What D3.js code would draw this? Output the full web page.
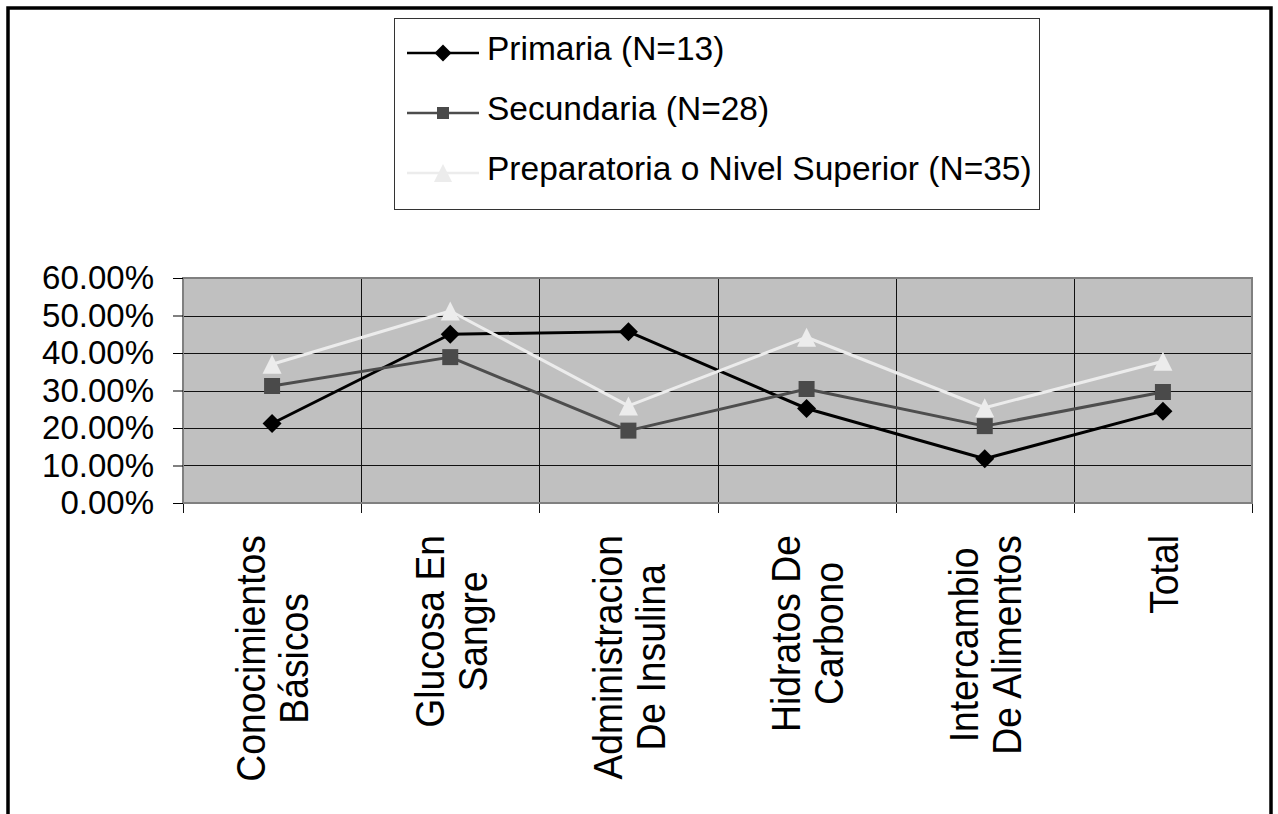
<!DOCTYPE html>
<html>
<head>
<meta charset="utf-8">
<script src="https://cdn.jsdelivr.net/npm/d3@7"></script>
<style>
  html, body { margin: 0; padding: 0; background: #fff; }
  svg { display: block; }
  text { font-family: "Liberation Sans", Arial, sans-serif; fill: #000; }
</style>
</head>
<body>
<svg id="chart" width="1278" height="814"></svg>
<script>
// ---- Data ----
const categories = ["Conocimientos Básicos", "Glucosa En Sangre", "Administracion De Insulina", "Hidratos De Carbono", "Intercambio De Alimentos", "Total"];
const categoryLines = [["Conocimientos", "Básicos"], ["Glucosa En", "Sangre"], ["Administracion", "De Insulina"], ["Hidratos De", "Carbono"], ["Intercambio", "De Alimentos"], ["Total"]];
const seriesNames = ["Primaria (N=13)", "Secundaria (N=28)", "Preparatoria o Nivel Superior (N=35)"];
const primaria = [0.212, 0.450, 0.457, 0.252, 0.118, 0.245];
const secundaria = [0.312, 0.389, 0.193, 0.304, 0.205, 0.296];
const preparatoria = [0.370, 0.512, 0.259, 0.442, 0.254, 0.378];
const yTicks = [0, 0.1, 0.2, 0.3, 0.4, 0.5, 0.6];

// ---- Layout ----
const svg = d3.select("#chart");
const plot = { left: 183, right: 1252, top: 278, bottom: 503 };

const series = [
  { name: seriesNames[0], values: primaria, color: "#000000", fill: "#000000", marker: "diamond" },
  { name: seriesNames[1], values: secundaria, color: "#4d4d4d", fill: "#4a4a4a", marker: "square" },
  { name: seriesNames[2], values: preparatoria, color: "#ececec", fill: "#ececec", marker: "triangle" }
];

const x = d3.scaleBand().domain(categories).range([plot.left, plot.right]).padding(0);
const y = d3.scaleLinear().domain([0, 0.6]).range([plot.bottom, plot.top]);

// Outer frame
svg.append("rect").attr("x", 8).attr("y", 8).attr("width", 1263).attr("height", 830)
  .attr("fill", "none").attr("stroke", "#000").attr("stroke-width", 3.5);

// Plot background
svg.append("rect").attr("x", plot.left).attr("y", plot.top)
  .attr("width", plot.right - plot.left).attr("height", plot.bottom - plot.top)
  .attr("fill", "#c0c0c0");

// Horizontal gridlines
svg.append("g").selectAll("line").data(yTicks).join("line")
  .attr("x1", plot.left).attr("x2", plot.right)
  .attr("y1", d => Math.round(y(d)) + 0.5).attr("y2", d => Math.round(y(d)) + 0.5)
  .attr("stroke", "#111").attr("stroke-width", 1);

// Vertical gridlines at category boundaries
const boundaries = categories.map(c => x(c)).concat([plot.right]);
svg.append("g").selectAll("line").data(boundaries).join("line")
  .attr("x1", d => Math.round(d) + 0.5).attr("x2", d => Math.round(d) + 0.5)
  .attr("y1", plot.top).attr("y2", plot.bottom + 10)
  .attr("stroke", "#111").attr("stroke-width", 1);

// Plot border
svg.append("rect").attr("x", plot.left).attr("y", plot.top)
  .attr("width", plot.right - plot.left).attr("height", plot.bottom - plot.top)
  .attr("fill", "none").attr("stroke", "#808080").attr("stroke-width", 2);

// Y axis
const yAxis = d3.axisLeft(y).tickValues(yTicks).tickFormat(d3.format(".2%")).tickSize(10).tickPadding(19);
const yg = svg.append("g").attr("transform", `translate(${plot.left},0)`).call(yAxis);
yg.select(".domain").remove();
yg.selectAll(".tick line").attr("stroke", "#000");
yg.selectAll(".tick text").attr("font-size", 33).attr("font-family", '"Liberation Sans", Arial, sans-serif').attr("fill", "#000");

// Category labels (rotated, multi-line)
const catFont = 41, catScale = 0.91, lineH = 43, labelTop = 535;
categories.forEach((c, i) => {
  const cx = x(c) + x.bandwidth() / 2;
  const g = svg.append("g").attr("transform", `translate(${cx},${labelTop}) rotate(-90) scale(${catScale},1)`);
  const lines = categoryLines[i];
  const texts = lines.map((ln, j) => g.append("text")
    .attr("font-size", catFont)
    .attr("text-anchor", "middle")
    .attr("y", (j - (lines.length - 1) / 2) * lineH)
    .attr("dy", "0.36em")
    .text(ln));
  const maxLen = d3.max(texts, t => t.node().getComputedTextLength());
  texts.forEach(t => t.attr("x", -maxLen / 2));
});

// Marker drawing
function drawMarker(sel, type, size, fill) {
  if (type === "diamond") {
    const h = size / 2;
    sel.append("path").attr("d", `M0,${-h}L${h},0L0,${h}L${-h},0Z`).attr("fill", fill);
  } else if (type === "square") {
    sel.append("rect").attr("x", -size / 2).attr("y", -size / 2).attr("width", size).attr("height", size).attr("fill", fill);
  } else {
    const h = size / 2;
    sel.append("path").attr("d", `M0,${-h}L${h},${h}L${-h},${h}Z`).attr("fill", fill);
  }
}

// Lines and markers
const line = d3.line().x((d, i) => x(categories[i]) + x.bandwidth() / 2).y(d => y(d));
series.forEach(s => {
  svg.append("path").datum(s.values).attr("d", line)
    .attr("fill", "none").attr("stroke", s.color).attr("stroke-width", 3).attr("stroke-linejoin", "round");
});
series.forEach(s => {
  s.values.forEach((v, i) => {
    const g = svg.append("g").attr("transform", `translate(${x(categories[i]) + x.bandwidth() / 2},${y(v)})`);
    const size = s.marker === "diamond" ? 19 : (s.marker === "square" ? 16 : 19);
    drawMarker(g, s.marker, size, s.fill);
  });
});

// Legend
const legend = svg.append("g");
legend.append("rect").attr("x", 394.5).attr("y", 18.5).attr("width", 645).attr("height", 191)
  .attr("fill", "#fff").attr("stroke", "#333").attr("stroke-width", 1);
const legendBaselines = [60, 120, 180];
series.forEach((s, i) => {
  const ly = legendBaselines[i] - 7;
  legend.append("line").attr("x1", 407).attr("x2", 479).attr("y1", ly).attr("y2", ly)
    .attr("stroke", s.color).attr("stroke-width", 2.5);
  const g = legend.append("g").attr("transform", `translate(443,${ly})`);
  const size = s.marker === "diamond" ? 17 : (s.marker === "square" ? 12 : 18);
  drawMarker(g, s.marker, size, s.fill);
  legend.append("text").attr("x", 487).attr("y", legendBaselines[i])
    .attr("font-size", 33.5).text(s.name);
});
</script>
</body>
</html>
